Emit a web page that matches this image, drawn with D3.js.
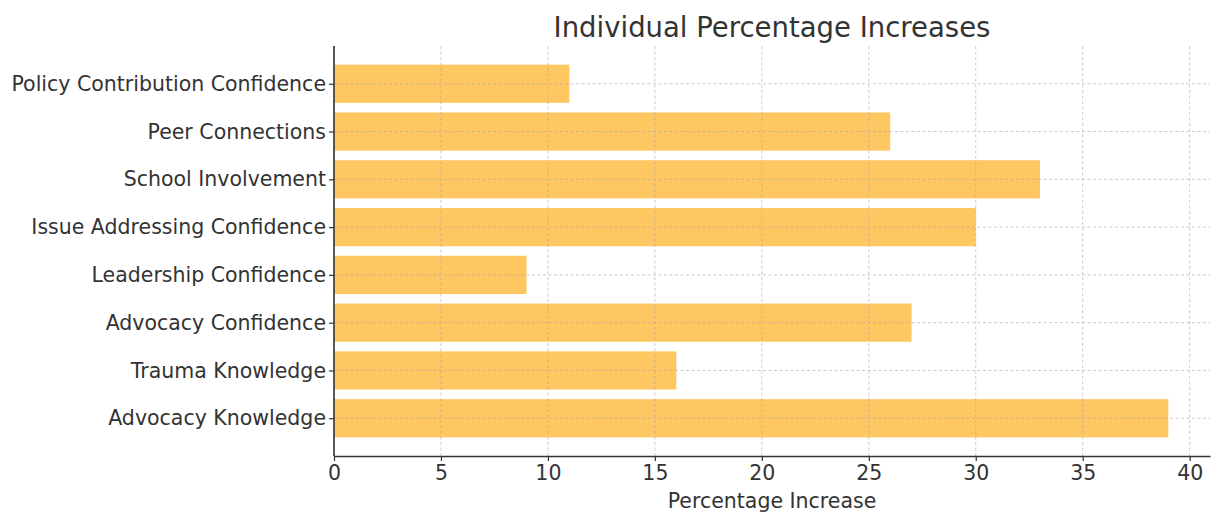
<!DOCTYPE html>
<html>
<head>
<meta charset="utf-8">
<script src="https://cdn.jsdelivr.net/npm/d3@7"></script>
<style>
  html, body { margin: 0; padding: 0; background: #fff; }
  svg { display: block; font-family: "DejaVu Sans", sans-serif; }
</style>
</head>
<body>
<svg id="chart" width="1212" height="513"></svg>
<script>
// Categories listed top to bottom as they appear on the chart
const categories = [
  "Policy Contribution Confidence",
  "Peer Connections",
  "School Involvement",
  "Issue Addressing Confidence",
  "Leadership Confidence",
  "Advocacy Confidence",
  "Trauma Knowledge",
  "Advocacy Knowledge"
];
const increases = [11, 26, 33, 30, 9, 27, 16, 39];
const xTicks = [0, 5, 10, 15, 20, 25, 30, 35, 40];
const titleText = "Individual Percentage Increases";
const xLabelText = "Percentage Increase";

const svg = d3.select("#chart");
const margin = { left: 334, right: 2, top: 46, bottom: 57 };
const W = 1212, H = 513;
const innerW = W - margin.left - margin.right;
const innerH = H - margin.top - margin.bottom;

const xMax = d3.max(increases) * 1.05;
const x = d3.scaleLinear().domain([0, xMax]).range([margin.left, margin.left + innerW]);

// Category positions with padding like a 0.8-wide bar plus axis margins
const n = categories.length;
const step = innerH / (n + 0.58);
const yCenter = d3.scalePoint().domain(categories)
  .range([margin.top + step * 0.79, margin.top + step * 0.79 + step * (n - 1)]);
const barH = step * 0.8;

const textColor = "#333333";
const labelSize = "20.5px";

// Bars
svg.append("g").selectAll("rect").data(categories).join("rect")
  .attr("x", x(0))
  .attr("y", d => yCenter(d) - barH / 2)
  .attr("width", (d, i) => x(increases[i]) - x(0))
  .attr("height", barH)
  .attr("fill", "#FFA500")
  .attr("fill-opacity", 0.62);

// Grid (drawn over the bars)
const grid = svg.append("g").attr("stroke", "#a8a8a8").attr("stroke-width", 0.8)
  .attr("stroke-dasharray", "3,2.5").attr("opacity", 0.75);
grid.selectAll("line.v").data(xTicks).join("line").attr("class", "v")
  .attr("x1", d => x(d)).attr("x2", d => x(d))
  .attr("y1", margin.top).attr("y2", margin.top + innerH);
grid.selectAll("line.h").data(categories).join("line").attr("class", "h")
  .attr("x1", margin.left).attr("x2", margin.left + innerW)
  .attr("y1", d => yCenter(d)).attr("y2", d => yCenter(d));

// X axis
const xAxis = svg.append("g")
  .attr("transform", `translate(0,${margin.top + innerH})`)
  .call(d3.axisBottom(x).tickValues(xTicks).tickSize(5).tickPadding(4).tickSizeOuter(0));
xAxis.select(".domain").attr("stroke", "#333").attr("stroke-width", 1.6);
xAxis.selectAll(".tick line").attr("stroke", "#333").attr("stroke-width", 1.2);
xAxis.selectAll(".tick text").attr("fill", textColor)
  .style("font-size", labelSize).style("font-family", "'DejaVu Sans', sans-serif");

// Y axis
const yAxis = svg.append("g")
  .attr("transform", `translate(${margin.left},0)`)
  .call(d3.axisLeft(yCenter).tickSize(5).tickPadding(3).tickSizeOuter(0));
yAxis.select(".domain").attr("stroke", "#333").attr("stroke-width", 1.6)
  .attr("d", `M0,${margin.top}V${margin.top + innerH}`);
yAxis.selectAll(".tick line").attr("stroke", "#333").attr("stroke-width", 1.2);
yAxis.selectAll(".tick text").attr("fill", textColor)
  .style("font-size", labelSize).style("font-family", "'DejaVu Sans', sans-serif");

// Title
svg.append("text")
  .attr("x", margin.left + innerW / 2).attr("y", 37)
  .attr("text-anchor", "middle").attr("fill", textColor)
  .style("font-size", "27.5px")
  .text(titleText);

// X axis label
svg.append("text")
  .attr("x", margin.left + innerW / 2).attr("y", 508)
  .attr("text-anchor", "middle").attr("fill", textColor)
  .style("font-size", labelSize)
  .text(xLabelText);
</script>
</body>
</html>
